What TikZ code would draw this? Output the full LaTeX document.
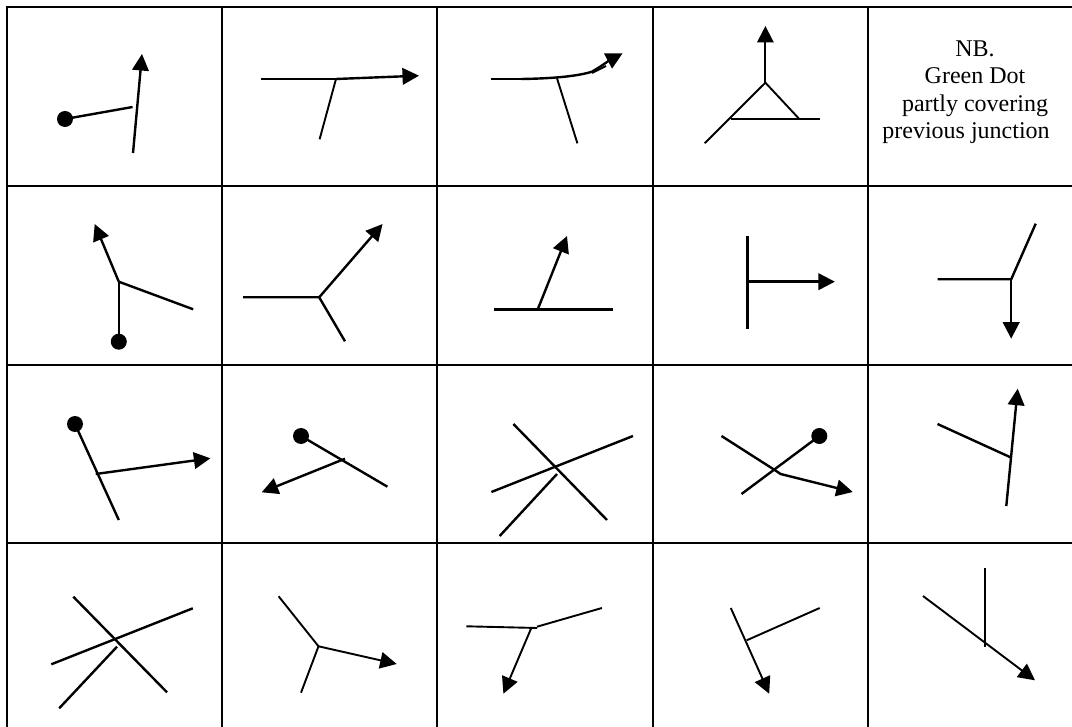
\documentclass[tikz,border=0pt]{standalone}
\usepackage{fontspec}
\setmainfont{Liberation Serif}
\usetikzlibrary{arrows.meta}
\tikzset{
  gridline/.style={line width=2pt,black},
  wire/.style={line width=2.4pt,black},
  thinwire/.style={line width=1.9pt,black},
  arrowed/.style={-{Triangle[length=16.5pt,width=16.5pt]}},
  dotmark/.style={circle,fill=black,inner sep=0pt,minimum size=16pt},
  note/.style={anchor=base,inner sep=0pt,font=\fontsize{24}{28}\selectfont}
}
\begin{document}
\begin{tikzpicture}[x=1pt,y=-1pt]
\useasboundingbox (0,0) rectangle (1072,727);
\fill[white] (0,0) rectangle (1072,727);
% grid
\foreach \gx in {7,222,437,652.7,868}{\draw[gridline] (\gx,6) -- (\gx,727);}
\foreach \gy in {6.7,185.7,365,542.7}{\draw[gridline] (6,\gy) -- (1072,\gy);}
% row 1
\node[dotmark] (d11) at (65,119) {};
\coordinate (a11) at (132.6,107);
\draw[wire] (d11.center) -- (a11);
\draw[wire,arrowed] (133,153) -- (142,54);

\draw[wire] (261,79) -- (336,79);
\draw[wire,arrowed] (336,79) -- (419,75.7);
\draw[thinwire] (336,79) -- (319.6,139.3);

\draw[wire] (491.4,79) -- (521,79);
\draw[wire,arrowed] (521,79) .. controls (555,78.5) and (578,76) .. (592,71.7) .. controls (600,67) and (610,60) .. (622.6,53.3);
\draw[thinwire] (592,73) -- (606,66);
\draw[thinwire] (557,78.3) -- (577.4,143.3);

\draw[thinwire,arrowed] (765.4,82.7) -- (765.4,26);
\draw[thinwire] (704.6,143.3) -- (765.4,82.7) -- (799,118.7);
\draw[thinwire] (730.5,118.7) -- (820.4,118.7);

\node[note] (n1) at (975,56.7) {NB.};
\node[note] (n2) at (975,84) {Green Dot};
\node[note] (n3) at (975,112) {partly covering};
\node[note] (n4) at (966,139) {previous junction};
% row 2
\node[dotmark] (d21) at (118.8,341.7) {};
\coordinate (j21) at (118.8,281.7);
\draw[wire] (d21.center) -- (j21);
\draw[wire,arrowed] (j21) -- (94.7,224);
\draw[wire] (j21) -- (193.2,309.3);

\coordinate (j22) at (319.2,297.3);
\draw[wire] (243,297.3) -- (j22) -- (345,341.3);
\draw[wire,arrowed] (j22) -- (382.6,224);

\draw[wire] (493.5,309.7) -- (613,309.7);
\draw[wire,arrowed] (537.6,309.7) -- (567,236);

\draw[wire] (747.4,235.7) -- (747.4,329.3);
\draw[wire,arrowed] (747.4,281.7) -- (834.9,281.7);

\coordinate (j25) at (1011.2,279.3);
\draw[wire] (937.5,279.3) -- (j25) -- (1035.7,223.7);
\draw[wire,arrowed] (j25) -- (1011.2,338.7);
% row 3
\node[dotmark] (d31) at (75,424) {};
\draw[wire] (d31.center) -- (118.8,520);
\draw[wire,arrowed] (95.7,474) -- (210.4,458.3);

\node[dotmark] (d32) at (301,436) {};
\draw[wire] (d32.center) -- (387.4,486.7);
\draw[wire,arrowed] (345,458.7) -- (261.7,492.3);

\draw[wire] (513.4,424) -- (607,520);
\draw[wire] (491.4,492) -- (633,436);
\draw[wire] (499.7,536) -- (557,474);

\draw[wire] (721.5,436) -- (774.7,470);
\draw[wire,arrowed] (774.7,470) -- (780.6,474) -- (852.8,492);
\node[dotmark] (d34) at (819.3,436) {};
\draw[wire] (d34.center) -- (741.5,494);

\draw[wire] (937.5,424) -- (1010.5,457.3);
\draw[wire,arrowed] (1006.3,506) -- (1017.7,388.7);
% row 4
\draw[wire] (73.3,596.7) -- (167,692.3);
\draw[wire] (51.3,664.3) -- (192.8,608.3);
\draw[wire] (59.2,708.3) -- (117,646.7);

\coordinate (j42) at (318.5,646.3);
\draw[thinwire] (278.6,596.3) -- (j42) -- (301,692.7);
\draw[thinwire,arrowed] (j42) -- (396.7,664);

\draw[thinwire] (466.3,626.3) -- (537.2,628);
\draw[thinwire] (537,626.7) -- (601.9,608);
\draw[thinwire,arrowed] (531.3,628) -- (503.4,693.7);

\draw[thinwire,arrowed] (730.8,608) -- (769.2,693.7);
\draw[thinwire] (746.7,640.3) -- (819.7,608);

\draw[thinwire,arrowed] (923,596) -- (1035,680.3);
\draw[thinwire] (985.2,567.7) -- (985.2,646.7);
\end{tikzpicture}
\end{document}
